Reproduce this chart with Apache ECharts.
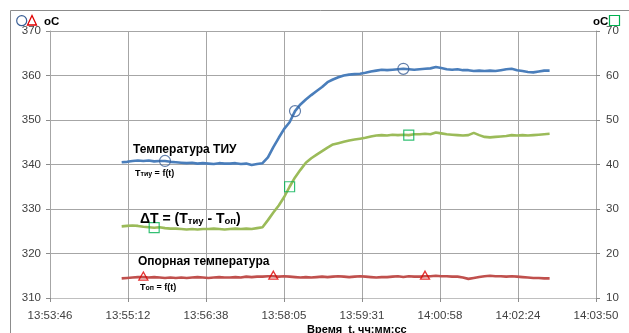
<!DOCTYPE html>
<html>
<head>
<meta charset="utf-8">
<script src="https://cdn.jsdelivr.net/npm/echarts@6/dist/echarts.min.js"></script>
<style>
  html, body { margin: 0; padding: 0; background: #fff; }
  #chart { width: 629px; height: 333px; }
</style>
</head>
<body>
<div id="chart"></div>
<script>
// Sample times of the logger (hh:mm:ss)
const sampleTimes = [
  '13:55:05','13:55:11','13:55:17','13:55:23','13:55:29','13:55:35','13:55:41','13:55:47','13:55:53','13:55:59',
  '13:56:05','13:56:11','13:56:17','13:56:23','13:56:29','13:56:35','13:56:41','13:56:47','13:56:53','13:56:59',
  '13:57:05','13:57:11','13:57:17','13:57:23','13:57:29','13:57:35','13:57:41','13:57:47','13:57:53','13:57:59',
  '13:58:05','13:58:11','13:58:17','13:58:23','13:58:29','13:58:35','13:58:41','13:58:47','13:58:53','13:58:59',
  '13:59:05','13:59:11','13:59:17','13:59:23','13:59:29','13:59:35','13:59:41','13:59:47','13:59:53','13:59:59',
  '14:00:05','14:00:11','14:00:17','14:00:23','14:00:29','14:00:35','14:00:41','14:00:47','14:00:53','14:00:59',
  '14:01:05','14:01:11','14:01:17','14:01:23','14:01:29','14:01:35','14:01:41','14:01:47','14:01:53','14:01:59',
  '14:02:05','14:02:11','14:02:17','14:02:23','14:02:29','14:02:35','14:02:41','14:02:47','14:02:53','14:02:59'
];

// Температура ТИУ, °C (left axis)
const tTiu = [
  340.5, 340.6, 340.8, 340.9, 340.8, 340.9, 340.7, 340.8, 340.8, 340.6,
  340.5, 340.4, 340.3, 340.4, 340.2, 340.3, 340.2, 340.1, 340.3, 340.2,
  340.2, 340.3, 340.1, 340.2, 339.9, 340.1, 340.3, 341.6, 343.9, 346.0,
  348.0, 349.5, 352.0, 353.5, 354.6, 355.6, 356.5, 357.4, 358.5, 359.1,
  359.6, 360.0, 360.2, 360.3, 360.4, 360.6, 360.9, 361.1, 361.3, 361.2,
  361.3, 361.4, 361.5, 361.4, 361.3, 361.4, 361.5, 361.6, 361.9, 361.7,
  361.4, 361.3, 361.4, 361.2, 361.2, 361.0, 361.1, 361.0, 361.1, 361.0,
  361.2, 361.4, 361.5, 361.2, 361.0, 360.8, 360.7, 360.9, 361.1, 361.1
];

// ΔT = Tтиу - Tоп, °C (right axis)
const deltaT = [
  26.1, 26.2, 26.3, 26.2, 26.0, 25.9, 25.8, 25.9, 25.7, 25.6,
  25.6, 25.5, 25.4, 25.5, 25.4, 25.5, 25.5, 25.6, 25.5, 25.4,
  25.5, 25.6, 25.5, 25.6, 25.5, 25.7, 25.9, 27.5, 29.2, 30.8,
  32.7, 35.0, 37.1, 38.8, 40.4, 41.4, 42.2, 43.0, 43.8, 44.5,
  44.8, 45.1, 45.4, 45.6, 45.8, 46.0, 46.3, 46.5, 46.6, 46.5,
  46.7, 46.6, 46.7, 46.6, 46.8, 46.8, 46.9, 46.8, 47.2, 47.0,
  46.8, 46.7, 46.6, 46.5, 46.6, 47.1, 46.6, 46.2, 46.1, 46.2,
  46.3, 46.4, 46.6, 46.5, 46.6, 46.5, 46.6, 46.7, 46.8, 46.9
];

// Опорная температура, °C (left axis)
const tOp = [
  314.4, 314.5, 314.6, 314.7, 314.7, 314.6, 314.7, 314.6, 314.5, 314.6,
  314.5, 314.6, 314.5, 314.6, 314.7, 314.6, 314.5, 314.6, 314.7, 314.6,
  314.6, 314.7, 314.6, 314.8, 314.7, 314.8, 314.8, 314.9, 314.9, 314.8,
  314.9, 314.8, 314.7, 314.6, 314.7, 314.6, 314.7, 314.8, 314.7, 314.8,
  314.9, 314.8, 314.7, 314.8, 314.9, 314.8, 314.7, 314.6, 314.7, 314.7,
  314.8, 314.9, 314.7, 314.9, 314.8, 314.8, 314.9, 314.9, 315.0, 314.9,
  314.9, 314.8, 314.8, 314.6, 314.3, 314.5, 314.7, 314.9, 315.0, 314.9,
  314.9, 314.8, 314.9, 314.8, 314.7, 314.6, 314.5, 314.5, 314.4, 314.4
];

// Samples that carry a series marker
const tTiuMarks = [8, 32, 52];
const deltaTMarks = [6, 31, 53];
const tOpMarks = [4, 28, 56];

// Time axis tick labels (ticks every 0.001 day starting at 0.579 day)
const timeTickLabels = ['13:53:46', '13:55:12', '13:56:38', '13:58:05', '13:59:31', '14:00:58', '14:02:24', '14:03:50'];
const timeTickStart = 579; // in thousandths of a day

// Axis ranges
const leftRange = [310, 370];
const rightRange = [10, 70];

// time "hh:mm:ss" -> thousandths of a day
function toMilliDay(s) {
  const p = s.split(':').map(Number);
  return (p[0] * 3600 + p[1] * 60 + p[2]) / 86.4;
}

const xs = sampleTimes.map(toMilliDay);
const pairs = (vals) => vals.map((v, i) => [xs[i], v]);
const pick = (vals, idx) => idx.map(i => [xs[i], vals[i]]);

const COL_BLUE = '#4A7EBB';
const COL_GREEN = '#9BBB59';
const COL_RED = '#C0504D';
const GRID_COL = '#a6a6a6';
const TXT = '#404040';
const FONT = 'Liberation Sans';

const chart = echarts.init(document.getElementById('chart'), null, { renderer: 'canvas' });

const labelFont = { color: TXT, fontFamily: FONT, fontSize: 11.5 };

chart.setOption({
  animation: false,
  backgroundColor: '#fff',
  grid: { left: 50, right: 33, top: 31, bottom: 35, containLabel: false },
  xAxis: {
    type: 'value',
    min: timeTickStart,
    max: timeTickStart + timeTickLabels.length - 1,
    interval: 1,
    axisLine: { show: true, lineStyle: { color: '#bfbfbf', width: 1 } },
    axisTick: { show: true, length: 4, lineStyle: { color: '#8c8c8c' } },
    splitLine: { show: true, lineStyle: { color: GRID_COL, width: 1 } },
    axisLabel: Object.assign({
      margin: 12,
      showMinLabel: true,
      showMaxLabel: true,
      formatter: (v) => timeTickLabels[Math.round(v - timeTickStart)] || ''
    }, labelFont)
  },
  yAxis: [
    {
      type: 'value',
      position: 'left',
      min: leftRange[0], max: leftRange[1], interval: 10,
      axisLine: { show: true, lineStyle: { color: GRID_COL } },
      axisTick: { show: true, length: 4, lineStyle: { color: '#8c8c8c' } },
      splitLine: { show: true, lineStyle: { color: GRID_COL, width: 1 } },
      axisLabel: Object.assign({ margin: 9 }, labelFont)
    },
    {
      type: 'value',
      position: 'right',
      min: rightRange[0], max: rightRange[1], interval: 10,
      axisLine: { show: true, lineStyle: { color: GRID_COL } },
      axisTick: { show: true, length: 4, lineStyle: { color: '#8c8c8c' } },
      splitLine: { show: false },
      axisLabel: Object.assign({ margin: 10 }, labelFont)
    }
  ],
  series: [
    {
      name: 'Tоп', type: 'line', yAxisIndex: 0, data: pairs(tOp),
      showSymbol: false, lineStyle: { color: COL_RED, width: 2.6 }, z: 3
    },
    {
      name: 'ΔT', type: 'line', yAxisIndex: 1, data: pairs(deltaT),
      showSymbol: false, lineStyle: { color: COL_GREEN, width: 2.6 }, z: 3
    },
    {
      name: 'Tтиу', type: 'line', yAxisIndex: 0, data: pairs(tTiu),
      showSymbol: false, lineStyle: { color: COL_BLUE, width: 2.6 }, z: 3
    },
    {
      type: 'scatter', yAxisIndex: 0, data: pick(tTiu, tTiuMarks),
      symbol: 'circle', symbolSize: 11, z: 5,
      itemStyle: { color: 'rgba(0,0,0,0)', borderColor: '#3B5F96', borderWidth: 1.2 }
    },
    {
      type: 'scatter', yAxisIndex: 1, data: pick(deltaT, deltaTMarks),
      symbol: 'rect', symbolSize: 10, z: 5,
      itemStyle: { color: 'rgba(0,0,0,0)', borderColor: '#00B050', borderWidth: 1.2 }
    },
    {
      type: 'scatter', yAxisIndex: 0, data: pick(tOp, tOpMarks),
      symbol: 'triangle', symbolSize: [9, 8], symbolOffset: [0, -1], z: 5,
      itemStyle: { color: 'rgba(0,0,0,0)', borderColor: '#E00000', borderWidth: 1.3 }
    }
  ],
  graphic: [
    // chart frame
    { type: 'rect', shape: { x: 10.5, y: 10.5, width: 640, height: 340 },
      style: { fill: 'none', stroke: '#8c8c8c', lineWidth: 1 }, z: 0, silent: true },
    // unit caption, left axis
    { type: 'circle', shape: { cx: 21.7, cy: 20.7, r: 5 },
      style: { fill: 'none', stroke: '#3B5F96', lineWidth: 1.2 }, z: 10 },
    { type: 'polygon', shape: { points: [[32, 15.5], [36.5, 25], [27.5, 25]] },
      style: { fill: 'none', stroke: '#E00000', lineWidth: 1.3 }, z: 10 },
    { type: 'text', x: 44, y: 21.5, z: 10,
      style: { text: 'oC', fill: '#000', font: 'bold 11.5px ' + FONT, textVerticalAlign: 'middle' } },
    // unit caption, right axis
    { type: 'text', x: 593, y: 21.5, z: 10,
      style: { text: 'oC', fill: '#000', font: 'bold 11.5px ' + FONT, textVerticalAlign: 'middle' } },
    { type: 'rect', shape: { x: 609.5, y: 15.5, width: 10, height: 10 },
      style: { fill: 'none', stroke: '#00B050', lineWidth: 1.2 }, z: 10 },
    // x axis title
    { type: 'text', x: 307, y: 330, z: 10,
      style: { text: 'Время  t, чч:мм:сс', fill: '#000', font: 'bold 11px ' + FONT, textVerticalAlign: 'middle' } },
    // curve captions
    { type: 'text', x: 133, y: 150, z: 10,
      style: { text: 'Температура ТИУ', fill: '#000', font: 'bold 12px ' + FONT, textVerticalAlign: 'middle' } },
    { type: 'text', x: 135, y: 166, z: 10,
      style: {
        text: '{a|T}{b|тиу}{a| = f(t)}',
        rich: {
          a: { fontSize: 9, fontWeight: 'bold', fontFamily: FONT, fill: '#000', lineHeight: 12, verticalAlign: 'bottom' },
          b: { fontSize: 7, fontWeight: 'bold', fontFamily: FONT, fill: '#000', lineHeight: 8, verticalAlign: 'bottom' }
        }
      } },
    { type: 'text', x: 140, y: 208, z: 10,
      style: {
        text: '{a|ΔT = (T}{b|тиу}{a| - T}{b|оп}{a|)}',
        rich: {
          a: { fontSize: 14, fontWeight: 'bold', fontFamily: FONT, fill: '#000', lineHeight: 18, verticalAlign: 'bottom' },
          b: { fontSize: 9.5, fontWeight: 'bold', fontFamily: FONT, fill: '#000', lineHeight: 11, verticalAlign: 'bottom' }
        }
      } },
    { type: 'text', x: 138, y: 262, z: 10,
      style: { text: 'Опорная температура', fill: '#000', font: 'bold 12px ' + FONT, textVerticalAlign: 'middle' } },
    { type: 'text', x: 140, y: 280, z: 10,
      style: {
        text: '{a|T}{b|оп}{a| = f(t)}',
        rich: {
          a: { fontSize: 9, fontWeight: 'bold', fontFamily: FONT, fill: '#000', lineHeight: 12, verticalAlign: 'bottom' },
          b: { fontSize: 7, fontWeight: 'bold', fontFamily: FONT, fill: '#000', lineHeight: 8, verticalAlign: 'bottom' }
        }
      } }
  ]
});
</script>
</body>
</html>
